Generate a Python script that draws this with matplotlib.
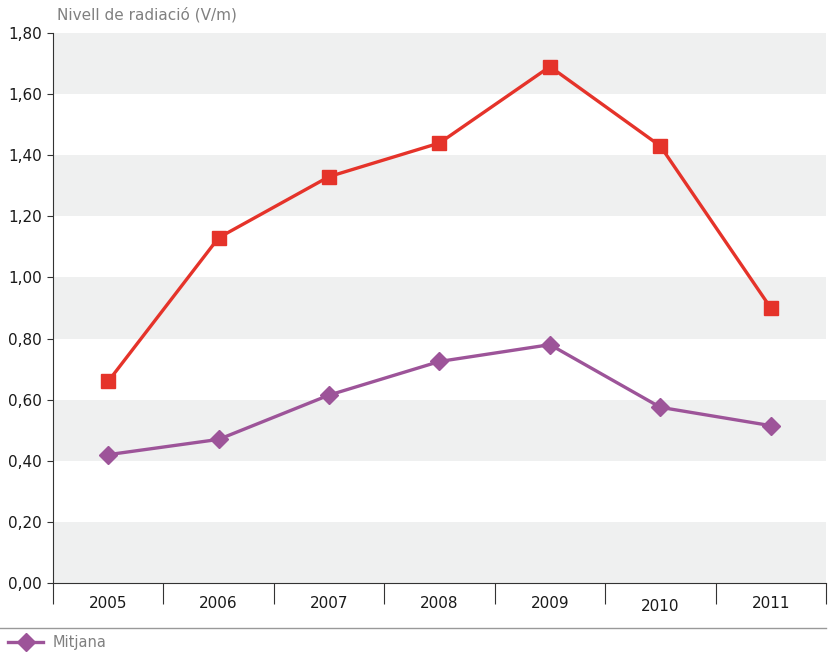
import matplotlib
matplotlib.use("Agg")
import matplotlib.pyplot as plt
from matplotlib.lines import Line2D
import numpy as np

years = ["2005", "2006", "2007", "2008", "2009", "2010", "2011"]
maxim = [0.66, 1.13, 1.33, 1.44, 1.69, 1.43, 0.90]
mitjana = [0.42, 0.47, 0.615, 0.725, 0.78, 0.575, 0.515]
yticks = [0.0, 0.2, 0.4, 0.6, 0.8, 1.0, 1.2, 1.4, 1.6, 1.8]

red = "#e5332a"
purple = "#9d5499"
band = "#eff0f0"

plt.rcParams['font.family'] = ['DejaVu Sans']
fig = plt.figure(figsize=(8.31, 6.55), dpi=100)
W, H = 831, 655
ax = fig.add_axes([53 / W, (H - 583) / H, (826 - 53) / W, (583 - 33) / H])

x = np.arange(len(years))
ax.set_xlim(-0.5, len(years) - 0.5)
ax.set_ylim(0, 1.8)

# alternating bands
for i in range(0, len(yticks) - 1):
    if i % 2 == 0:
        ax.axhspan(yticks[i], yticks[i + 1], color=band, zorder=0, lw=0)

ax.plot(x, maxim, color=red, lw=2.4, marker='s', markersize=10, zorder=3)
ax.plot(x, mitjana, color=purple, lw=2.4, marker='D', markersize=9, zorder=3)

for s in ['top', 'right']:
    ax.spines[s].set_visible(False)
ax.spines['left'].set_color('#333333')
ax.spines['bottom'].set_color('#333333')
ax.spines['left'].set_linewidth(0.8)
ax.spines['bottom'].set_linewidth(0.8)

ax.set_yticks(yticks)
ax.set_yticklabels([f"{v:.2f}".replace('.', ',') for v in yticks])
ax.tick_params(axis='y', length=4, width=0.8, color='#333333', labelsize=11, pad=4, labelcolor='#1a1a1a')

# x: boundary ticks (major) and centered labels (minor)
ax.set_xticks(np.arange(-0.5, len(years), 1.0))
ax.set_xticklabels([])
ax.tick_params(axis='x', which='major', length=15, width=0.8, color='#333333')
ax.set_xticks(x, minor=True)
ax.set_xticklabels(years, minor=True)
ax.tick_params(axis='x', which='minor', length=0, labelsize=11, pad=9, labelcolor='#1a1a1a')
for lbl in ax.get_xticklabels(minor=True):
    if lbl.get_text() == "2010":
        lbl.set_y(-0.006)

fig.text(57 / W, 1 - 15 / H, "Nivell de radiació (V/m)", color='#808080', fontsize=11,
         ha='left', va='center')

# separator line and legend
fig.add_artist(Line2D([0, 826 / W], [1 - 628 / H, 1 - 628 / H], color='#999999', lw=1))
fig.add_artist(Line2D([8 / W, 43 / W], [1 - 642 / H, 1 - 642 / H], color=purple, lw=2.4))
fig.add_artist(Line2D([26 / W], [1 - 642 / H], color=purple, marker='D', markersize=9, lw=0))
fig.text(53 / W, 1 - 642 / H, "Mitjana", color='#808080', fontsize=10.5, ha='left', va='center')

fig.savefig("out.png", dpi=100)
